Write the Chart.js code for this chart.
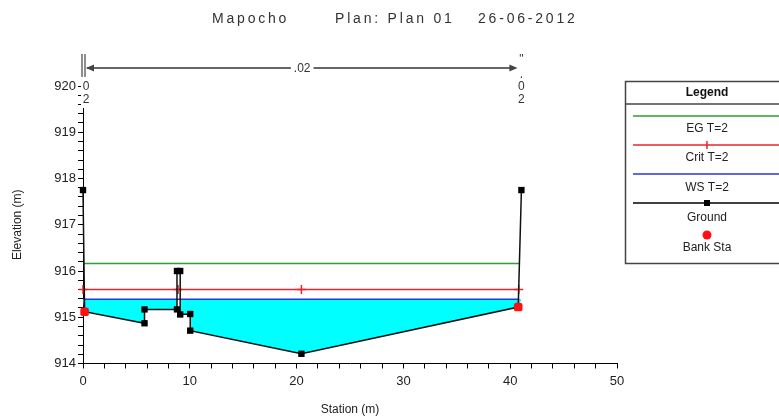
<!DOCTYPE html>
<html>
<head>
<meta charset="utf-8">
<script src="https://cdn.jsdelivr.net/npm/chart.js@4.4.1/dist/chart.umd.min.js"></script>
<style>
  html, body { margin: 0; padding: 0; background: #fff; }
  #wrap { position: relative; width: 779px; height: 419px; }
</style>
</head>
<body>
<div id="wrap"><canvas id="seccion" width="779" height="419"></canvas></div>
<script>
// cross section data (station m, elevation m)
const groundStation = [0, 0.15, 5.76, 5.76, 8.8, 8.8, 9.1, 9.1, 10.04, 10.04, 20.45, 40.75, 41.05];
const groundElev = [917.75, 915.12, 914.87, 915.17, 915.17, 916.0, 916.0, 915.06, 915.07, 914.71, 914.21, 915.22, 917.75];
const bankStation = [0.15, 40.75];
const bankElev = [915.12, 915.22];
const profileNames = ['EG T=2', 'Crit T=2', 'WS T=2'];
const profileElev = [916.16, 915.6, 915.39];
const profileStation = [0, 40.85];
const critStation = [0, 8.9, 20.45, 40.8];
const manningN = ['.02'];
const manningStation = [0, 41.05];
const xTickLabels = [0, 10, 20, 30, 40, 50];
const yTickLabels = [914, 915, 916, 917, 918, 919, 920];
const titleParts = ['Mapocho', 'Plan: Plan 01', '26-06-2012'];

const FONT = '"Liberation Sans", Arial, sans-serif';
const colEG = '#2f9e35';
const colCrit = '#e8262b';
const colWS = '#2838d8';
const colWater = '#00ffff';

const ws = profileElev[2];
const waterPts = groundStation.map((x, i) => ({ x: x, y: Math.min(groundElev[i], ws) }));
const groundPts = groundStation.map((x, i) => ({ x: x, y: groundElev[i] }));
const bankPts = bankStation.map((x, i) => ({ x: x, y: bankElev[i] }));
const flatLine = (elev) => profileStation.map(x => ({ x: x, y: elev }));

const isWhole = (v) => Math.abs(v - Math.round(v)) < 1e-6;

const extras = {
    id: 'extras',
    afterDraw(chart) {
        const { ctx, scales: { x, y } } = chart;
        ctx.save();

        // title
        ctx.fillStyle = '#333';
        ctx.font = '14px ' + FONT;
        ctx.letterSpacing = '2.8px';
        ctx.textBaseline = 'middle';
        ctx.textAlign = 'left';
        const titleX = [212, 335, 478];
        titleParts.forEach((t, i) => ctx.fillText(t, titleX[i], 19));
        ctx.letterSpacing = '0px';

        // manning n band
        const xl = x.getPixelForValue(manningStation[0]);
        const xr = x.getPixelForValue(manningStation[1]);
        const ay = 68;
        ctx.strokeStyle = '#444';
        ctx.lineWidth = 1.2;
        ctx.beginPath();
        ctx.moveTo(xl - 1, 54); ctx.lineTo(xl - 1, 77);
        ctx.moveTo(xl + 2, 54); ctx.lineTo(xl + 2, 77);
        ctx.stroke();
        ctx.strokeStyle = '#666';
        ctx.lineWidth = 2;
        ctx.beginPath();
        ctx.moveTo(xl + 4, ay); ctx.lineTo(xr - 6, ay);
        ctx.stroke();
        ctx.fillStyle = '#444';
        ctx.beginPath();
        ctx.moveTo(xl + 3, ay); ctx.lineTo(xl + 11, ay - 3.5); ctx.lineTo(xl + 11, ay + 3.5); ctx.closePath();
        ctx.moveTo(xr - 4, ay); ctx.lineTo(xr - 12, ay - 3.5); ctx.lineTo(xr - 12, ay + 3.5); ctx.closePath();
        ctx.fill();

        ctx.font = '12px ' + FONT;
        ctx.textAlign = 'center';
        const mid = (xl + xr) / 2;
        const nw = ctx.measureText(manningN[0]).width;
        ctx.fillStyle = '#fff';
        ctx.fillRect(mid - nw / 2 - 3, ay - 7, nw + 6, 14);
        ctx.fillStyle = '#333';
        ctx.fillText(manningN[0], mid, ay + 1);

        // vertical n labels at both ends
        [xl + 3, xr].forEach((px, k) => {
            ctx.fillStyle = '#fff';
            ctx.fillRect(px - 5, 80, 11, 28);
            ctx.fillStyle = '#333';
            const chars = manningN[0].split('');
            const ys = [75, 87, 100];
            chars.forEach((c, i) => {
                if (k === 0 && i === 0) return;
                ctx.fillText(c, px, ys[i]);
            });
        });
        ctx.fillText('"', xr, 60);

        // legend box
        const lx = 625.5, ly = 81.5, lh = 182;
        ctx.fillStyle = '#fff';
        ctx.fillRect(lx, ly, 200, lh);
        ctx.strokeStyle = '#444';
        ctx.lineWidth = 1.5;
        ctx.strokeRect(lx, ly, 200, lh);
        ctx.beginPath();
        ctx.moveTo(lx, 104); ctx.lineTo(779, 104);
        ctx.stroke();
        const cx = 707;
        ctx.fillStyle = '#111';
        ctx.font = 'bold 12px ' + FONT;
        ctx.fillText('Legend', cx, 93);

        ctx.font = '12px ' + FONT;
        const rows = [
            { color: colEG, ly: 116, ty: 129, label: profileNames[0] },
            { color: colCrit, ly: 145, ty: 158, label: profileNames[1], cross: true },
            { color: colWS, ly: 174, ty: 188, label: profileNames[2] },
            { color: '#000', ly: 203, ty: 218, label: 'Ground', square: true }
        ];
        rows.forEach(r => {
            ctx.strokeStyle = r.color;
            ctx.lineWidth = 1.5;
            ctx.beginPath();
            ctx.moveTo(633, r.ly); ctx.lineTo(779, r.ly);
            ctx.stroke();
            if (r.cross) {
                ctx.beginPath();
                ctx.moveTo(cx, r.ly - 4); ctx.lineTo(cx, r.ly + 4);
                ctx.stroke();
            }
            if (r.square) {
                ctx.fillStyle = '#000';
                ctx.fillRect(cx - 3, r.ly - 3, 6, 6);
            }
            ctx.fillStyle = '#222';
            ctx.fillText(r.label, cx, r.ty);
        });
        ctx.fillStyle = '#ff1010';
        ctx.beginPath();
        ctx.arc(cx, 235, 4.5, 0, Math.PI * 2);
        ctx.fill();
        ctx.fillStyle = '#222';
        ctx.fillText('Bank Sta', cx, 248);

        ctx.restore();
    }
};

const ctx = document.getElementById('seccion').getContext('2d');
new Chart(ctx, {
    type: 'scatter',
    data: {
        datasets: [
            {
                label: 'Bank Sta',
                data: bankPts,
                showLine: false,
                pointStyle: 'rectRounded',
                pointRadius: 5,
                backgroundColor: '#ff1010',
                borderColor: '#ff1010',
                pointBorderWidth: 0,
                clip: false
            },
            {
                label: 'Ground',
                data: groundPts,
                showLine: true,
                borderColor: '#111',
                borderWidth: 1.5,
                pointStyle: 'rect',
                pointRadius: 4.5,
                backgroundColor: '#000',
                pointBorderWidth: 0,
                clip: false
            },
            {
                label: profileNames[2],
                data: flatLine(profileElev[2]),
                showLine: true,
                borderColor: colWS,
                borderWidth: 1.5,
                pointRadius: 0,
                clip: false
            },
            {
                label: profileNames[1],
                data: critStation.map(x => ({ x: x, y: profileElev[1] })),
                showLine: true,
                borderColor: colCrit,
                borderWidth: 1.5,
                pointStyle: 'cross',
                pointRadius: 4.5,
                pointBorderWidth: 1.5,
                clip: false
            },
            {
                label: profileNames[0],
                data: flatLine(profileElev[0]),
                showLine: true,
                borderColor: colEG,
                borderWidth: 1.5,
                pointRadius: 0,
                clip: false
            },
            {
                label: 'water',
                data: waterPts,
                showLine: true,
                borderWidth: 0,
                borderColor: 'rgba(0,0,0,0)',
                backgroundColor: colWater,
                pointRadius: 0,
                fill: { value: ws },
                clip: false
            }
        ]
    },
    options: {
        responsive: false,
        animation: false,
        events: [],
        layout: { padding: { left: 0, right: 162, top: 86, bottom: 0 } },
        plugins: {
            legend: { display: false },
            tooltip: { enabled: false },
            title: { display: false }
        },
        scales: {
            x: {
                type: 'linear',
                min: 0,
                max: 50,
                afterFit: (s) => { s.height = 55.5; },
                grid: { drawOnChartArea: false, color: '#000', tickColor: '#000', tickLength: 5 },
                border: { color: '#000', width: 1 },
                ticks: {
                    stepSize: 2,
                    autoSkip: false,
                    maxRotation: 0,
                    padding: 5,
                    color: '#222',
                    font: { family: FONT, size: 13 },
                    callback: (v) => xTickLabels.includes(v) ? String(v) : ''
                },
                title: {
                    display: true,
                    text: 'Station (m)',
                    color: '#222',
                    font: { family: FONT, size: 12 },
                    padding: { top: 0, bottom: 2 }
                }
            },
            y: {
                type: 'linear',
                min: 914,
                max: 920,
                afterFit: (s) => { s.width = 83; },
                grid: { drawOnChartArea: false, color: '#000', tickColor: '#000', tickLength: 5 },
                border: { color: '#000', width: 1 },
                ticks: {
                    stepSize: 0.2,
                    autoSkip: false,
                    padding: 2,
                    color: '#222',
                    font: { family: FONT, size: 13 },
                    callback: (v) => (isWhole(v) && yTickLabels.includes(Math.round(v))) ? String(Math.round(v)) : ''
                },
                title: {
                    display: true,
                    text: 'Elevation (m)',
                    color: '#222',
                    font: { family: FONT, size: 12 },
                    padding: { top: 10, bottom: 0 }
                }
            }
        }
    },
    plugins: [extras]
});
</script>
</body>
</html>
